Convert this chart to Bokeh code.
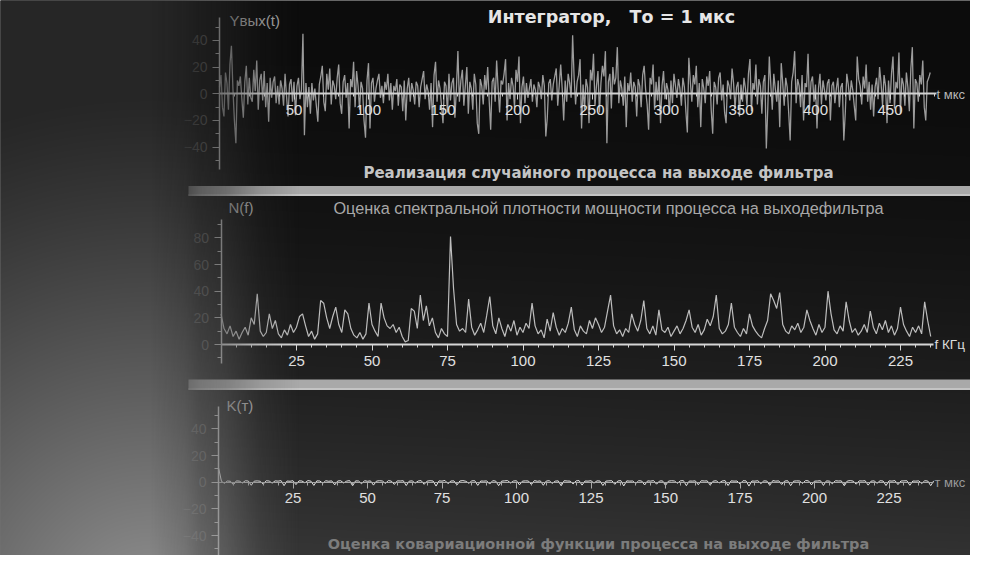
import numpy as np
from bokeh.plotting import figure
from bokeh.models import Range1d, LinearAxis, FixedTicker
from bokeh.core.properties import value
from bokeh.embed import file_html
from bokeh.resources import INLINE

# ---------------- data ----------------
# Output of the filter, Yвых(t), t = 0..477 мкс
y_out = [
    5, 14, -10, -17, 16, 8, -12, 22, 36, 4,
    -20, -37, 10, 6, 13, -4, -18, 9, 21, -8,
    12, -3, -6, 18, 2, 25, -12, 10, 15, -5,
    17, -10, 8, -21, 12, -3, 9, 13, -7, 6,
    -8, 10, 4, -9, 15, -2, -17, 7, 11, -6,
    9, -16, 6, 12, -4, 3, 45, -31, 8, -10,
    5, -15, 8, -5, 4, -9, -21, 7, 13, 21,
    -6, -13, 15, 3, 19, -8, 10, 6, -4, 12,
    22, -7, -15, 9, 14, -3, 8, -26, 11, 5,
    24, -10, 17, 6, -12, 9, 4, -20, -33, 10,
    23, -26, 8, 12, -6, 4, 10, 15, -3, 6,
    -7, 9, 3, 15, -5, 8, -12, 6, 2, 11,
    -9, 7, 5, -13, 10, -20, 4, 12, -6, 8,
    3, -8, 9, 6, -10, 5, 11, 17, -4, 7,
    2, -12, 8, -25, 14, 24, -6, 10, 4, -9,
    -22, 9, 6, -14, 15, -5, 8, 12, -18, 4,
    32, -6, 10, 18, -9, 6, 20, -15, 9, 4,
    -12, 15, 7, -22, -30, 11, 6, -8, 14, 3,
    20, -5, -27, 9, 12, -6, 25, 4, -14, 10,
    7, 15, 26, -20, 8, -4, 12, 6, -10, 18,
    9, 28, -22, 5, 13, -7, 8, -3, 4, 11,
    -6, 7, 3, -10, 9, 5, -4, 14, 6, -32,
    -18, 8, 11, -5, 7, 13, 19, -9, 6, 22,
    4, -20, 10, -6, 15, 8, -3, 44, 12, -8,
    9, 14, 26, -26, 7, -12, 11, 5, -22, 18,
    10, 30, -9, 6, 17, -14, 8, 21, 13, 32,
    -37, 9, 15, -11, 20, 7, 12, 35, -7, 10,
    4, -9, 13, -25, 8, 2, 16, -6, 9, 5,
    -17, 11, 6, -10, 14, 21, 3, -8, -27, 12,
    7, 22, -12, 9, -5, 13, -22, 6, 17, -4,
    8, 3, -15, 10, -7, 15, 6, -3, 11, 4,
    -9, 12, 5, -13, -29, 27, 9, -6, 14, 7,
    21, -10, 8, -25, 11, 4, -7, 13, 6, 17,
    -12, -30, 9, 5, -8, 12, 16, -5, 7, -14,
    -22, 10, 6, -4, 19, 8, -11, 5, 9, -17,
    7, -6, 12, 4, -9, 15, 26, -13, 8, 3,
    22, -8, 11, 6, -15, 9, 14, -41, -10, 28,
    7, -12, 15, 4, -6, 10, -25, 23, 8, -9,
    12, 5, -14, -35, 9, 16, 32, -7, 11, 6,
    -10, 14, -20, 8, 5, 30, -12, 9, 13, -6,
    7, -26, 4, 15, -8, 10, 3, -5, 8, 11,
    -20, 6, 9, -7, 4, 12, -10, 5, 8, -35,
    -14, 15, 7, -5, 10, 3, -9, -20, 28, 11,
    6, -8, 13, 4, 22, -6, 9, -12, 7, -17,
    5, 12, -4, 20, 8, -9, 14, 6, -22, 10,
    -7, 15, 28, -11, 9, 4, 31, -15, 12, 7,
    -9, 16, 5, -13, 19, 35, -26, 11, 8, -6,
    14, 7, 25, -10, -20, 9, 12, 16,
]

# Power spectral density estimate N(f), f = 0..235 кГц
spectrum = [
    23, 12, 8, 14, 6, 10, 4, 9, 13, 7,
    20, 15, 38, 10, 6, 9, 23, 12, 18, 8,
    5, 11, 7, 15, 9, 13, 21, 23, 14, 6,
    10, 4, 8, 33, 31, 20, 12, 21, 28, 15,
    9, 26, 23, 12, 7, 5, 9, 4, 8, 31,
    15, 10, 6, 31, 20, 14, 12, 15, 9, 13,
    6, 2, 3, 27, 25, 12, 37, 18, 29, 14,
    20, 9, 5, 12, 8, 6, 81, 42, 15, 10,
    12, 9, 34, 13, 7, 11, 16, 9, 22, 36,
    14, 8, 20, 12, 6, 15, 10, 18, 7, 13,
    9, 16, 12, 31, 14, 8, 11, 5, 19, 10,
    24, 13, 7, 12, 9, 16, 28, 11, 6, 14,
    10, 8, 18, 12, 20, 15, 9, 13, 25, 37,
    14, 8, 11, 6, 12, 9, 23, 15, 10, 18,
    33, 12, 8, 14, 7, 26, 11, 9, 13, 6,
    10, 14, 8, 12, 18, 26, 13, 9, 15, 7,
    11, 19, 14, 21, 37, 12, 8, 10, 15, 31,
    13, 9, 6, 12, 8, 23, 14, 10, 7, 5,
    12, 18, 38, 33, 27, 39, 15, 10, 8, 14,
    11, 16, 9, 13, 26, 18, 12, 7, 15, 9,
    13, 40, 23, 11, 8, 14, 10, 32, 18, 9,
    12, 7, 10, 15, 9, 25, 13, 8, 16, 11,
    18, 9, 14, 7, 12, 28, 15, 10, 6, 13,
    9, 14, 8, 32, 18, 6,
]

# Covariance function estimate K(т), т = 0..240 мкс
cov = [
    11.0, 0.6, -0.8, 0.9, 0.7, -1.9, 1.0, 0.8, -0.6, 1.1,
    0.9, -2.3, 0.8, 1.0, 0.7, -1.5, 1.1, 0.9, -0.7, 1.0,
    0.8, 1.2, -2.6, 0.9, 0.7, 1.1, -1.8, 1.0, 0.9, -0.5,
    1.2, 0.8, -2.4, 1.0, 0.9, -0.8, 1.1, 0.7, 1.0, -2.0,
    0.9, 1.1, -0.6, 0.8, 1.2, -2.7, 1.0, 0.9, -1.2, 1.1,
    0.7, 1.0, -2.2, 0.8, 1.1, 0.9, -0.9, 1.2, 0.8, -1.7,
    1.0, 0.9, 1.1, -2.5, 0.8, 1.0, -0.7, 0.9, 1.2, -1.6,
    0.8, 1.1, 0.9, -2.9, 1.0, 0.8, 1.3, -1.1, 0.9, 1.0,
    -2.1, 0.9, 1.2, 0.7, -0.8, 1.0, 1.1, -2.4, 0.9, 0.8,
    1.0, -1.4, 1.1, 0.9, -2.6, 0.8, 1.0, 1.2, -0.6, 0.9,
    1.1, -2.0, 0.8, 1.0, 0.9, -1.8, 1.2, 0.7, 1.0, -2.3,
    0.9, 1.1, -0.9, 0.8, 1.0, -2.7, 1.1, 0.9, 0.8, -1.3,
    1.0, 1.2, -2.2, 0.9, 0.8, 1.1, -0.7, 1.0, 0.9, -2.5,
    0.8, 1.0, 1.1, -1.6, 0.9, 1.2, -2.8, 1.0, 0.8, 0.9,
    -1.0, 1.1, 0.9, -2.1, 1.0, 0.8, 1.2, -1.5, 0.9, 1.0,
    -2.4, 0.8, 1.1, 0.9, -0.8, 1.0, 1.2, -2.6, 0.9, 0.8,
    1.0, -1.9, 1.1, 0.9, 1.0, -2.2, 0.8, 1.1, -0.6, 0.9,
    1.2, -2.5, 1.0, 0.8, 0.9, -1.4, 1.1, 1.0, -2.9, 0.9,
    0.8, 1.1, -1.1, 1.0, 0.9, -2.3, 1.2, 0.8, 1.0, -1.7,
    0.9, 1.1, -2.6, 0.8, 1.0, 0.9, -0.9, 1.2, 1.0, -2.0,
    0.8, 0.9, 1.1, -2.4, 1.0, 0.8, -1.2, 1.1, 0.9, 1.0,
    -2.7, 0.9, 1.2, 0.8, -1.5, 1.0, 0.9, 1.1, -2.2, 0.8,
    1.0, -0.8, 1.1, 0.9, -2.5, 1.0, 0.8, 1.2, -1.8, 0.9,
    1.0, 1.1, -2.3, 0.9, 0.8, 1.0, -1.0, 1.1, 0.9, -2.6,
    1.0,
]

t = list(range(len(y_out)))
f = list(range(len(spectrum)))
tau = list(range(len(cov)))

t_major = [50, 100, 150, 200, 250, 300, 350, 400, 450]
t_minor = list(range(10, 481, 10))
f_major = [25, 50, 75, 100, 125, 150, 175, 200, 225]
f_minor = list(range(5, 236, 5))
y_major = [-40, -20, 0, 20, 40]
y_minor = [-50, -30, -10, 10, 30, 50]
n_major = [0, 20, 40, 60, 80]
n_minor = [-10, 10, 30, 50, 70, 90]

# ---------------- page geometry (page pixels) ----------------
W, H = 970, 555
X0, Y0 = 0, 0

p = figure(width=W, height=H,
           x_range=Range1d(X0, X0 + W), y_range=Range1d(-(Y0 + H), -Y0),
           x_axis_type=None, y_axis_type=None,
           toolbar_location=None, output_backend="svg", min_border=0,
           outline_line_color=None,
           background_fill_color="#101010", border_fill_color="#101010")


def xr(origin, scale):
    return Range1d((X0 - origin) / scale, (X0 + W - origin) / scale)


def yr(origin, scale):
    return Range1d((origin - (Y0 + H)) / scale, (origin - Y0) / scale)


p.extra_x_ranges = {"t": xr(219, 1.49), "f": xr(220.5, 3.02), "tau": xr(218, 2.98)}
p.extra_y_ranges = {"y": yr(93.3, 1.333), "n": yr(344, 1.333), "k": yr(481.7, 1.333)}

# ---------------- background gradient ----------------
Xs = X0 + 0.5 + np.arange(W)
Ys = (Y0 + H - 0.5) - np.arange(H)          # row 0 = bottom
XX, YY = np.meshgrid(Xs, Ys)
panel = 12 + 40 * (YY / 571.0) ** 2 + 6 * (YY / 571.0) * (1 - XX / 986.0)
bg = np.empty((H, W), dtype=np.uint32)
v = bg.view(dtype=np.uint8).reshape((H, W, 4))
g = np.clip(panel, 0, 255).astype(np.uint8)
v[..., 0] = g; v[..., 1] = g; v[..., 2] = g; v[..., 3] = 255
r_bg = p.image_rgba(image=[bg], x=X0, y=-(Y0 + H), dw=W, dh=H)
r_bg.level = "image"

d = np.sqrt((XX - 150) ** 2 + (YY - 620) ** 2)
left = 38 + 112 * np.clip(1 - d / 530.0, 0, 1) ** 1.2
alpha = np.interp(XX, [0, 150, 185, 200, 225, 260, 300], [1, 1, 0.82, 0.65, 0.52, 0.2, 0])
ov = np.empty((H, W), dtype=np.uint32)
w = ov.view(dtype=np.uint8).reshape((H, W, 4))
gl = np.clip(left, 0, 255).astype(np.uint8)
w[..., 0] = gl; w[..., 1] = gl; w[..., 2] = gl
w[..., 3] = (alpha * 255).astype(np.uint8)

# ---------------- separator bars ----------------
for top, bot in [(185.5, 195.5), (379.0, 389.5)]:
    p.quad(left=188, right=X0 + W, top=-top, bottom=-bot,
           fill_color="#a9a9a9", line_color=None)
    p.quad(left=188, right=X0 + W, top=-(bot - 2), bottom=-bot,
           fill_color="#c4c4c4", line_color=None)

# ---------------- data lines ----------------
p.line(t, y_out, x_range_name="t", y_range_name="y", line_color="#9c9c9c", line_width=1.3)
p.line(f, spectrum, x_range_name="f", y_range_name="n", line_color="#bdbdbd", line_width=1.2)
p.line(tau, cov, x_range_name="tau", y_range_name="k", line_color="#e2e2e2", line_width=1)


# ---------------- axes ----------------
def style(ax, color, lw):
    ax.axis_line_color = color
    ax.axis_line_width = lw
    ax.major_tick_line_color = color
    ax.minor_tick_line_color = color
    ax.major_tick_in = 0
    ax.minor_tick_in = 0
    ax.major_label_text_font = "Liberation Sans"


def x_axis(xn, yn, bounds, ticks, minors, color, lw):
    ax = LinearAxis(x_range_name=xn, y_range_name=yn, fixed_location=0, bounds=bounds,
                    ticker=FixedTicker(ticks=ticks, minor_ticks=minors))
    style(ax, color, lw)
    ax.major_tick_out = 6
    ax.minor_tick_out = 3
    ax.major_label_text_color = "#e0e0e0"
    ax.major_label_text_font_size = "15px"
    ax.major_label_standoff = 5
    p.add_layout(ax, "below")


def y_axis(xn, yn, bounds, ticks, minors):
    ax = LinearAxis(x_range_name=xn, y_range_name=yn, fixed_location=0, bounds=bounds,
                    ticker=FixedTicker(ticks=ticks, minor_ticks=minors))
    style(ax, "#c0c0c0", 1.5)
    ax.major_tick_out = 7
    ax.minor_tick_out = 4
    ax.major_label_text_color = "#5c5c5c"
    ax.major_label_text_font_size = "14px"
    ax.major_label_standoff = 5
    p.add_layout(ax, "left")


x_axis("t", "y", (0, 481), t_major, t_minor, "#d2d2d2", 2)
x_axis("f", "n", (0, 236), f_major, f_minor, "#d6d6d6", 2)
x_axis("tau", "k", (0, 240), f_major, f_minor, "#a8a8a8", 1)
y_axis("t", "y", (-57, 57), y_major, y_minor)
y_axis("f", "n", (-14, 94), n_major, n_minor)
y_axis("tau", "k", (-57, 57), y_major, y_minor)

# ---------------- texts ----------------
def txt(x, y, s, size, color, bold=False, align="left", font="Liberation Sans"):
    p.text(x=[x], y=[-y], text=[s], text_font=value(font),
           text_font_size=size, text_color=color,
           text_font_style="bold" if bold else "normal",
           text_align=align, text_baseline="middle")


NB = "\u00a0"
txt(611, 16, "Интегратор," + NB * 3 + "То = 1 мкс", "17.5px", "#e6e6e6", bold=True, align="center", font="DejaVu Sans")
txt(598, 172, "Реализация случайного процесса на выходе фильтра", "15px", "#c4c4c4", bold=True, align="center", font="DejaVu Sans")
txt(608, 207, "Оценка спектральной плотности мощности процесса на выходефильтра", "16.3px", "#a8a8a8", align="center")
txt(598, 543, "Оценка ковариационной функции процесса на выходе фильтра", "14.5px", "#7c7c7c", bold=True, align="center", font="DejaVu Sans")

txt(229, 20, "Yвых(t)", "15px", "#a8a8a8")
txt(936, 94, "t мкс", "13px", "#b8b8b8")
txt(228, 207, "N(f)", "15px", "#a8a8a8")
txt(934, 344, "f КГц", "13.5px", "#dcdcdc")
txt(226, 405, "K(т)", "15px", "#a8a8a8")
txt(934, 482, "т мкс", "13px", "#9a9a9a")

# overlay of the left glow, fading the left edge of the charts
r_ov = p.image_rgba(image=[ov], x=X0, y=-(Y0 + H), dw=W, dh=H)
r_ov.level = "overlay"

open("out.html", "w").write(file_html(p, INLINE))
